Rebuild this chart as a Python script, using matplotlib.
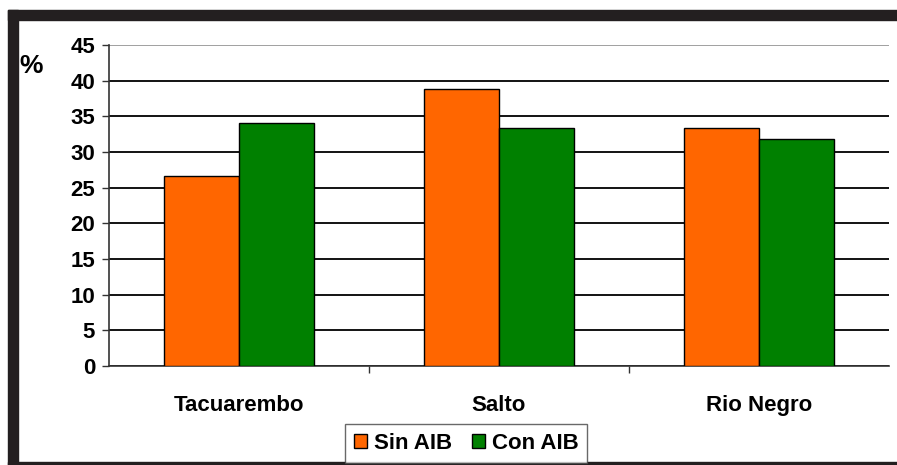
import numpy as np
import matplotlib.pyplot as plt
from matplotlib.patches import Rectangle

# data
categories = ['Tacuarembo', 'Salto', 'Rio Negro']
sin_aib = [26.7, 38.9, 33.4]
con_aib = [34.1, 33.4, 31.8]
yticks = [0, 5, 10, 15, 20, 25, 30, 35, 40, 45]

orange = '#ff6600'
green = '#008000'

plt.rcParams['font.family'] = ['Liberation Sans', 'DejaVu Sans']

fig = plt.figure(figsize=(8.97, 4.65), dpi=100)
W, H = 897., 465.

# dark frame around the chart
fig.patches.append(Rectangle((8/W, 0), 10/W, 1 - 10/H, transform=fig.transFigure,
                             color='#231f20', zorder=0))
fig.patches.append(Rectangle((8/W, 1 - 20/H), 1 - 8/W, 10/H, transform=fig.transFigure,
                             color='#231f20', zorder=0))
fig.patches.append(Rectangle((8/W, 0), 1 - 8/W, 3/H, transform=fig.transFigure,
                             color='#231f20', zorder=0))

ax = fig.add_axes([109/W, 1 - 366/H, 780/W, 321/H])
x = np.arange(len(categories))
bw = 0.29
ax.bar(x - bw/2, sin_aib, bw, color=orange, edgecolor='black', linewidth=1, label='Sin AIB', zorder=3)
ax.bar(x + bw/2, con_aib, bw, color=green, edgecolor='black', linewidth=1, label='Con AIB', zorder=3)

ax.set_xlim(-0.5, len(categories) - 0.5)
ax.set_ylim(0, 45)
ax.set_yticks(yticks)
ax.set_yticklabels([str(t) for t in yticks], fontsize=16, fontweight='bold')
ax.yaxis.grid(True, color='black', linewidth=1.3, zorder=0)
ax.get_ygridlines()[-1].set_color('#999999')
ax.set_axisbelow(True)

# category labels between boundary ticks
ax.set_xticks([0.5, 1.5])
ax.set_xticklabels([])
ax.tick_params(axis='x', length=5, width=1, color='#333333', direction='out')
ax.tick_params(axis='y', length=5, width=1, color='#333333', pad=5)
for i, c in enumerate(categories):
    ax.text(i, -5.6, c, ha='center', va='center', fontsize=16, fontweight='bold')

for s in ['top', 'right']:
    ax.spines[s].set_visible(False)
ax.spines['left'].set_color('#333333')
ax.spines['bottom'].set_color('#333333')
ax.spines['left'].set_linewidth(1.2)
ax.spines['bottom'].set_linewidth(1.2)

fig.text(31/W, 1 - 66/H, '%', fontsize=19, fontweight='bold', ha='center', va='center')

leg = fig.legend(loc='lower center', bbox_to_anchor=(466/W, 2/H), ncol=2,
                 frameon=True, fancybox=False, edgecolor='#444444', handlelength=0.6,
                 handleheight=0.6, handletextpad=0.3, columnspacing=0.9,
                 borderpad=0.4, borderaxespad=0, prop={'weight': 'bold', 'size': 16})
leg.get_frame().set_linewidth(1)

fig.savefig('out.png', dpi=100, facecolor='white')
